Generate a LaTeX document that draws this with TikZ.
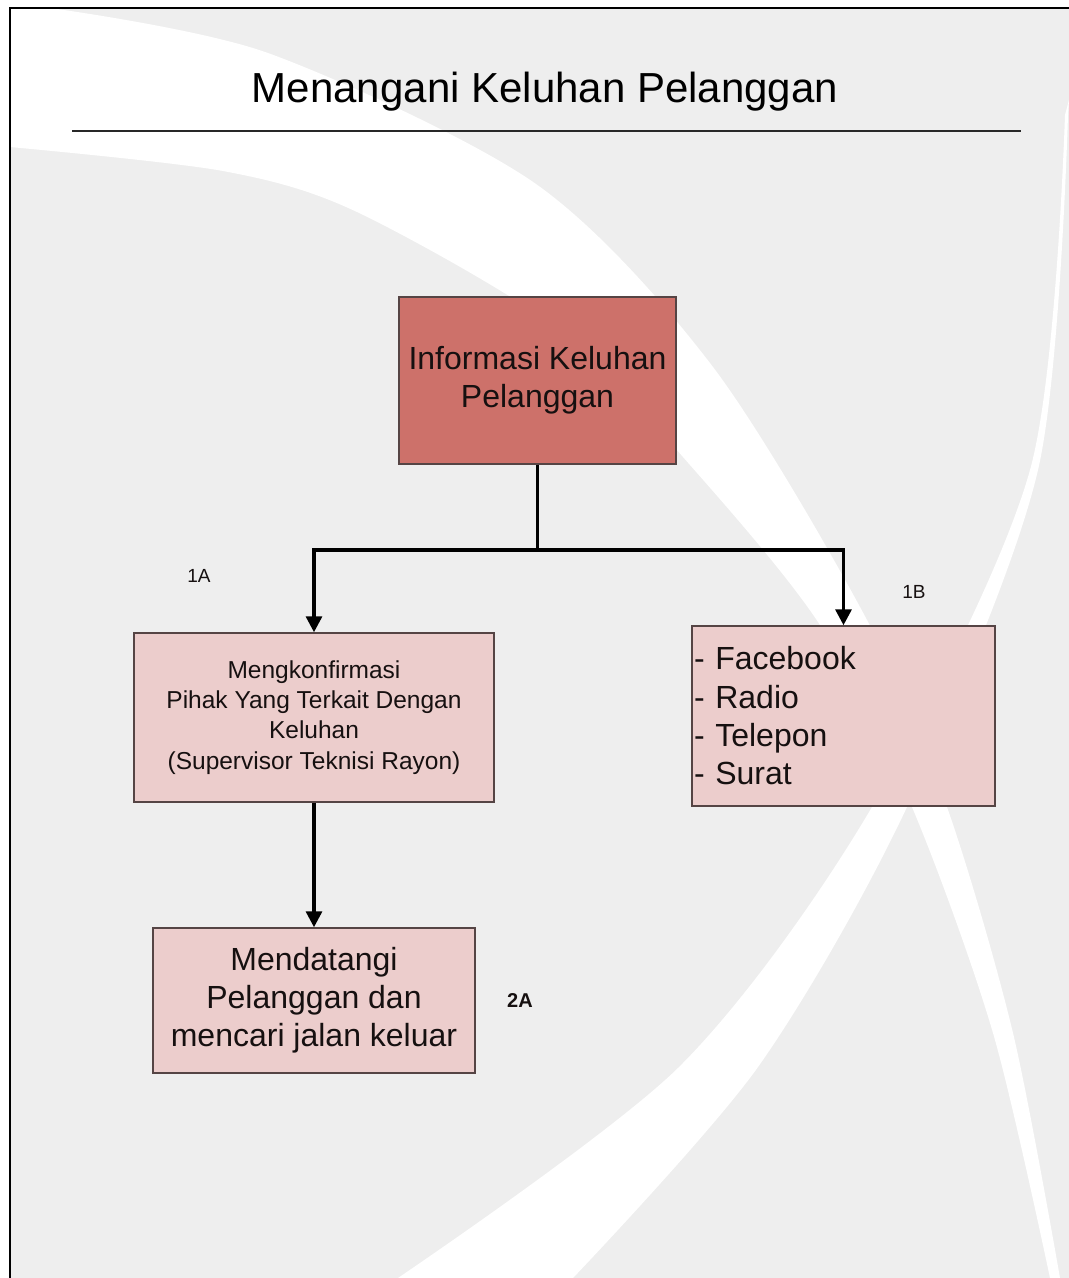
\documentclass[tikz,border=0pt]{standalone}
\usepackage{fontspec}
\setmainfont{Liberation Sans}
\usetikzlibrary{arrows.meta}
\definecolor{bggray}{RGB}{238,238,238}
\definecolor{topfill}{RGB}{205,113,106}
\definecolor{pinkfill}{RGB}{236,205,204}
\definecolor{boxline}{RGB}{85,68,68}
\definecolor{txt}{RGB}{22,16,16}
\definecolor{rulecol}{RGB}{40,40,40}
\begin{document}
\begin{tikzpicture}[x=1pt,y=-1pt,
  box/.style={draw=boxline, line width=1.5pt, inner sep=0pt, align=center, text=txt},
  conn/.style={line width=3.3pt, black},
  arr/.style={conn, -{Triangle[length=16pt,width=16pt]}},
  lbl/.style={inner sep=0pt, text=txt, anchor=base, font=\fontsize{19}{22}\selectfont}]
\useasboundingbox (0,0) rectangle (1069,1278);
\fill[white] (0,0) rectangle (1069,1278);
\fill[bggray] (10,8) rectangle (1069,1278);
% white swoosh A (top-left to bottom-right)
\fill[white] (10,8) -- (50,8)
  -- plot[smooth, tension=0.5] coordinates {(50,8) (268,53) (536,184) (713,367) (867,620) (947,807) (1013,1033) (1060,1278)}
  -- (1050,1278)
  -- plot[smooth, tension=0.5] coordinates {(1050,1278) (993,1033) (912,807) (820,625) (690,465) (560,330) (357,212) (223,171) (10,147)}
  -- cycle;
% white swoosh B (top-right to bottom-left)
\fill[white] (1069,100)
  -- plot[smooth, tension=0.5] coordinates {(1065,115) (1030,470) (872,807) (679,1067) (398,1278)}
  -- (573,1278)
  -- plot[smooth, tension=0.5] coordinates {(573,1278) (758,1067) (907,807) (1038,470) (1068,115)}
  -- cycle;
% frame
\draw[line width=2pt, black] (10,1278) -- (10,8) -- (1069,8);
% title
\node[inner sep=0pt, anchor=base, text=black, font=\fontsize{42}{50}\selectfont] (title) at (545,102) {Menangani Keluhan Pelanggan};
\draw[line width=2.5pt, rulecol] (72,131) -- (1021,131);
% boxes
\node[box, fill=topfill, minimum width=277pt, minimum height=167pt, font=\fontsize{32}{38}\selectfont] (top) at (537.5,380.5) {Informasi Keluhan\\Pelanggan};
\node[box, fill=pinkfill, minimum width=360pt, minimum height=169pt, font=\fontsize{24.5}{30.3}\selectfont] (b1a) at (314,717.5) {Mengkonfirmasi\\Pihak Yang Terkait Dengan\\Keluhan\\(Supervisor Teknisi Rayon)};
\node[box, fill=pinkfill, align=left, text width=299pt, inner xsep=2pt, minimum height=180pt, font=\fontsize{32}{38.3}\selectfont] (b1b) at (843.5,716) {- Facebook\\- Radio\\- Telepon\\- Surat};
\node[box, fill=pinkfill, minimum width=322pt, minimum height=145pt, font=\fontsize{32}{38}\selectfont] (b2a) at (314,1000.5) {Mendatangi\\Pelanggan dan\\mencari jalan keluar};
% labels
\node[lbl] (l1a) at (199,582) {1A};
\node[lbl] (l1b) at (914,598) {1B};
\node[lbl, font=\fontsize{20}{24}\selectfont\bfseries] (l2a) at (520,1007) {2A};
% connectors
\coordinate (j) at (537.5,550);
\draw[conn] (top.south) -- (j);
\draw[arr] (j) -| (b1a.north);
\draw[arr] (j) -| (b1b.north);
\draw[arr] (b1a.south) -- (b2a.north);
\end{tikzpicture}
\end{document}
